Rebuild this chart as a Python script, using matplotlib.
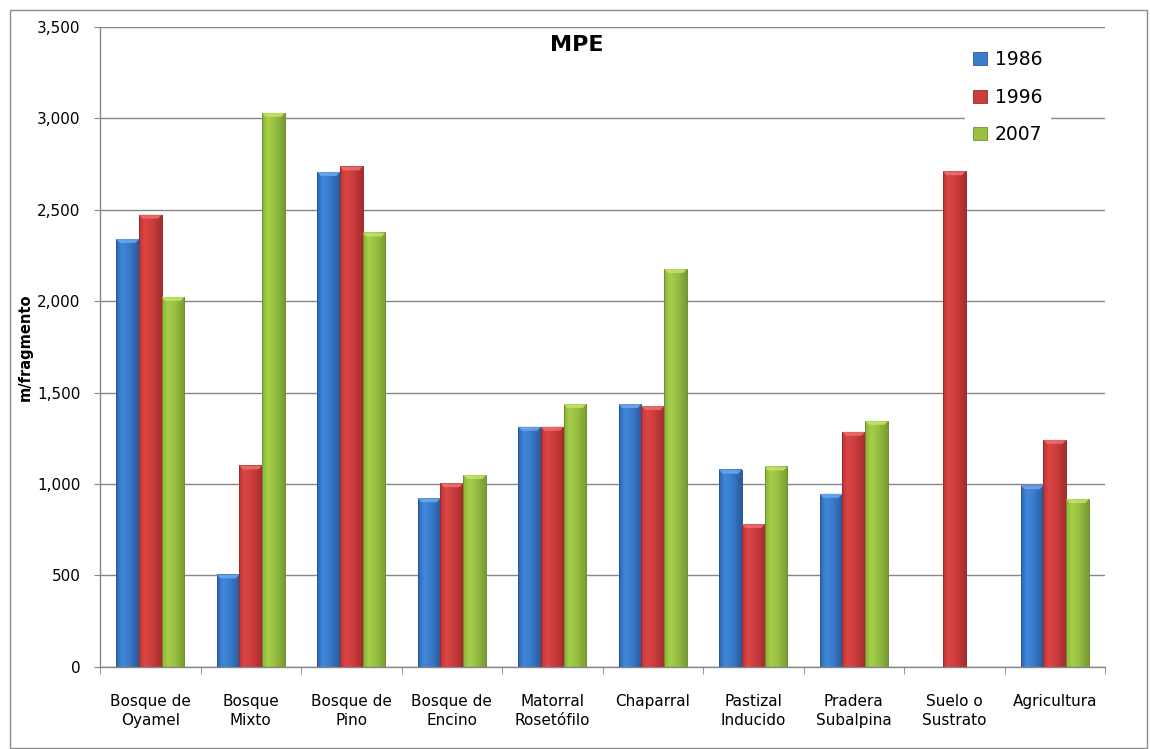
import numpy as np
import matplotlib
matplotlib.use('Agg')
import matplotlib.pyplot as plt
from matplotlib.colors import LinearSegmentedColormap
from matplotlib.patches import Patch, Rectangle, Polygon
from matplotlib.ticker import FuncFormatter

# ============================================================
# Data (MPE, m/fragmento)
categories = ['Bosque de\nOyamel', 'Bosque\nMixto', 'Bosque de\nPino', 'Bosque de\nEncino',
              'Matorral\nRosetófilo', 'Chaparral', 'Pastizal\nInducido', 'Pradera\nSubalpina',
              'Suelo o\nSustrato', 'Agricultura']
years = ['1986', '1996', '2007']
v1986 = [2340, 505, 2707, 922, 1313, 1437, 1078, 946, 0, 993]
v1996 = [2473, 1101, 2737, 1004, 1313, 1426, 780, 1285, 2711, 1241]
v2007 = [2023, 3030, 2375, 1049, 1437, 2176, 1095, 1345, 0, 917]

# gradient stops per series (left -> right across the bar)
grad_stops = {
    '1986': ['#2C63B0', '#3F88DA', '#3A7CCD', '#2A5A9C'],
    '1996': ['#BE3434', '#DC4545', '#CE3D3D', '#A52D2D'],
    '2007': ['#88B239', '#A6CF49', '#99C042', '#789C33'],
}
edge_cols = {'1986': '#2A5894', '1996': '#9A2B2B', '2007': '#6F8F30'}
cap_cols = {'1986': '#6FA8EE', '1996': '#EE7070', '2007': '#C3E46A'}
legend_cols = {'1986': '#3A7CCD', '1996': '#CE3D3D', '2007': '#99C042'}

W, H = 1150, 749
fig = plt.figure(figsize=(W/100, H/100), dpi=100)
ax = fig.add_axes([100/W, (H-666.7)/H, 1005/W, (666.7-27)/H])

x = np.arange(len(categories))
bw = 0.226
series = [v1986, v1996, v2007]
grad = np.linspace(0, 1, 64).reshape(1, -1)
cap_h = 4/0.1832  # ~4 px in data units
cap_d = 0.035

for k, (yr, vals) in enumerate(zip(years, series)):
    cmap = LinearSegmentedColormap.from_list(yr, list(zip([0, 0.25, 0.55, 1.0], grad_stops[yr])))
    bars = ax.bar(x + (k-1)*bw, vals, width=bw, facecolor='none', edgecolor=edge_cols[yr],
                  linewidth=0.7, zorder=3)
    for b in bars:
        h = b.get_height()
        if not np.isfinite(h) or h <= 0:
            continue
        x0 = b.get_x(); x1 = x0 + b.get_width()
        ax.imshow(grad, extent=[x0, x1, 0, h], aspect='auto', cmap=cmap,
                  interpolation='bicubic', zorder=2)
        ax.add_patch(Polygon([[x0, h], [x1, h], [x1-cap_d, h-cap_h], [x0+cap_d, h-cap_h]],
                             closed=True, facecolor=cap_cols[yr], edgecolor='none',
                             alpha=0.85, zorder=3))

ax.set_xlim(-0.5, len(categories)-0.5)
ax.set_ylim(0, 3500)
ax.set_yticks(np.arange(0, 3501, 500))
ax.yaxis.set_major_formatter(FuncFormatter(lambda v, p: f'{v:,.0f}'))
ax.set_xticks(x)
ax.set_xticklabels(categories, fontsize=11, linespacing=1.3)
ax.set_xticks(np.arange(-0.5, len(categories), 1), minor=True)
ax.tick_params(axis='x', which='major', length=0, pad=20)
ax.tick_params(axis='x', which='minor', length=5, color='#868686', direction='out')
ax.tick_params(axis='y', length=4, color='#868686', labelsize=11, pad=10)

ax.yaxis.grid(True, color='#868686', linewidth=1)
ax.set_axisbelow(True)
for s in ['top', 'right']:
    ax.spines[s].set_visible(False)
for s in ['left', 'bottom']:
    ax.spines[s].set_color('#868686')
    ax.spines[s].set_linewidth(1)

ax.set_ylabel('m/fragmento', fontsize=10.5, fontweight='bold')
ax.yaxis.set_label_coords(-67/1005, 0.5)

fig.text(577/W, 1-50.7/H, 'MPE', ha='center', va='baseline', fontsize=16, fontweight='bold')

handles = [Patch(facecolor=legend_cols[y], edgecolor=edge_cols[y], linewidth=0.6, label=y) for y in years]
leg = ax.legend(handles=handles, loc='upper left', bbox_to_anchor=(965/W, 1-42/H),
                bbox_transform=fig.transFigure, fontsize=13.5, frameon=True, fancybox=False,
                facecolor='white', edgecolor='none', framealpha=1, handlelength=0.7,
                handleheight=0.7, handletextpad=0.45, labelspacing=0.98, borderpad=0.45,
                borderaxespad=0)

# chart area border
fig.patches.append(Rectangle((10/W, 1/H), 1137/W, 738/H, transform=fig.transFigure,
                             fill=False, edgecolor='#8C8C8C', linewidth=1))

fig.savefig('out.png', dpi=100)
